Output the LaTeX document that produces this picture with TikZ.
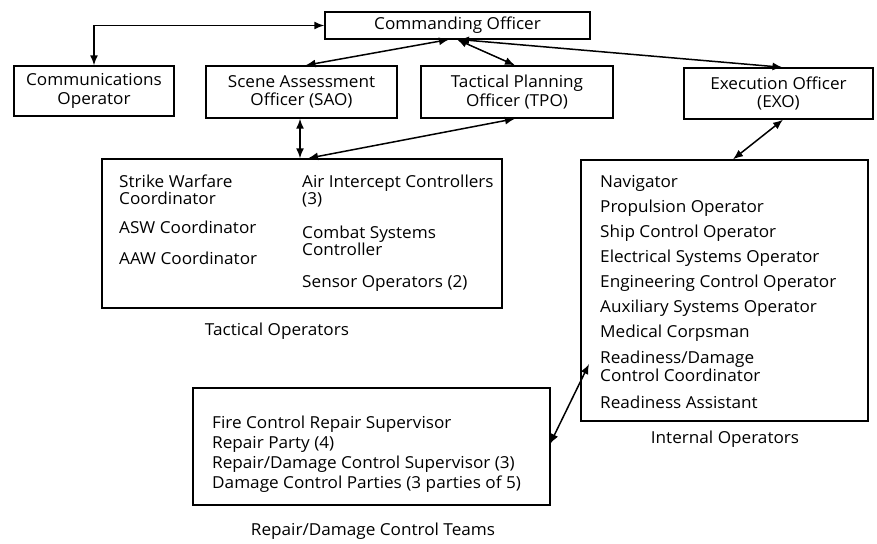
\documentclass[tikz,border=0pt]{standalone}
\usepackage{fontspec}
\setmainfont{Open Sans}[FakeStretch=1.04]
\usetikzlibrary{arrows.meta,calc}
\begin{document}
\begin{tikzpicture}[x=1pt,y=-1pt,
  box/.style={draw,line width=1.4pt,inner sep=0pt,align=center,font=\fontsize{16.5}{18.5}\selectfont},
  ln/.style={anchor=base west,inner sep=0pt,font=\fontsize{16.5}{18.5}\selectfont},
  captxt/.style={anchor=base,inner sep=0pt,font=\fontsize{16.5}{18.5}\selectfont},
  conn/.style={line width=1.5pt,{Latex[length=10pt,width=8pt]}-{Latex[length=10pt,width=8pt]}}]
\useasboundingbox (0,0) rectangle (877,543);
% top boxes
\node[box,minimum width=265pt,minimum height=27pt] (co) at (457.5,25.5) {Commanding Officer};
\node[box,minimum width=160pt,minimum height=50pt] (comm) at (94,91) {Communications\\Operator};
\node[box,minimum width=191pt,minimum height=52pt] (sao) at (301.5,92) {Scene Assessment\\Officer (SAO)};
\node[box,minimum width=192pt,minimum height=52pt] (tpo) at (517,92) {Tactical Planning\\Officer (TPO)};
\node[box,minimum width=189pt,minimum height=51pt] (exo) at (778.5,93.5) {Execution Officer\\(EXO)};
% tactical operators
\node[box,minimum width=400pt,minimum height=149pt] (tac) at (302,233.5) {};
\node[ln] (t1) at (119,187) {Strike Warfare};
\node[ln] (t2) at (119,204) {Coordinator};
\node[ln] (t3) at (119,233) {ASW Coordinator};
\node[ln] (t4) at (119,264) {AAW Coordinator};
\node[ln] (t5) at (302,187) {Air Intercept Controllers};
\node[ln] (t6) at (302,204) {(3)};
\node[ln] (t7) at (302,238) {Combat Systems};
\node[ln] (t8) at (302,255) {Controller};
\node[ln] (t9) at (302,287) {Sensor Operators (2)};
\node[captxt] (tacl) at (277,335) {Tactical Operators};
% internal operators
\node[box,minimum width=287pt,minimum height=261pt] (int) at (724.5,290.5) {};
\node[ln] (i1) at (600,187) {Navigator};
\node[ln] (i2) at (600,212) {Propulsion Operator};
\node[ln] (i3) at (600,237) {Ship Control Operator};
\node[ln] (i4) at (600,262) {Electrical Systems Operator};
\node[ln] (i5) at (600,287) {Engineering Control Operator};
\node[ln] (i6) at (600,312) {Auxiliary Systems Operator};
\node[ln] (i7) at (600,337) {Medical Corpsman};
\node[ln] (i8) at (600,363) {Readiness/Damage};
\node[ln] (i9) at (600,381) {Control Coordinator};
\node[ln] (i10) at (600,408) {Readiness Assistant};
\node[captxt] (intl) at (725,443) {Internal Operators};
% repair teams
\node[box,minimum width=357pt,minimum height=117pt] (rep) at (371.5,446.5) {};
\node[ln] (r1) at (212,428) {Fire Control Repair Supervisor};
\node[ln] (r2) at (212,448) {Repair Party (4)};
\node[ln] (r3) at (212,468) {Repair/Damage Control Supervisor (3)};
\node[ln] (r4) at (212,488) {Damage Control Parties (3 parties of 5)};
\node[captxt] (repl) at (373,535) {Repair/Damage Control Teams};
% connectors
\coordinate (hub) at (455,39.5);
\draw[conn] (co.west) -| (comm.north);
\draw[conn] ([xshift=-6pt]hub) -- ([xshift=4pt]sao.north);
\draw[conn] ([xshift=2pt]hub) -- ([xshift=-2pt]tpo.north);
\draw[conn] ([xshift=4pt]hub) -- ([xshift=4pt]exo.north);
\draw[conn] ([xshift=-1.5pt]sao.south) -- ([xshift=-2pt]tac.north);
\draw[conn] ([xshift=6pt]tac.north) -- ([xshift=-2pt]tpo.south);
\draw[conn] ([xshift=4.5pt]exo.south) -- ([xshift=8.5pt]int.north);
\coordinate (ia) at (589,364);
\coordinate (rb) at (550,444);
\draw[conn] (ia) -- (rb);
\end{tikzpicture}
\end{document}
